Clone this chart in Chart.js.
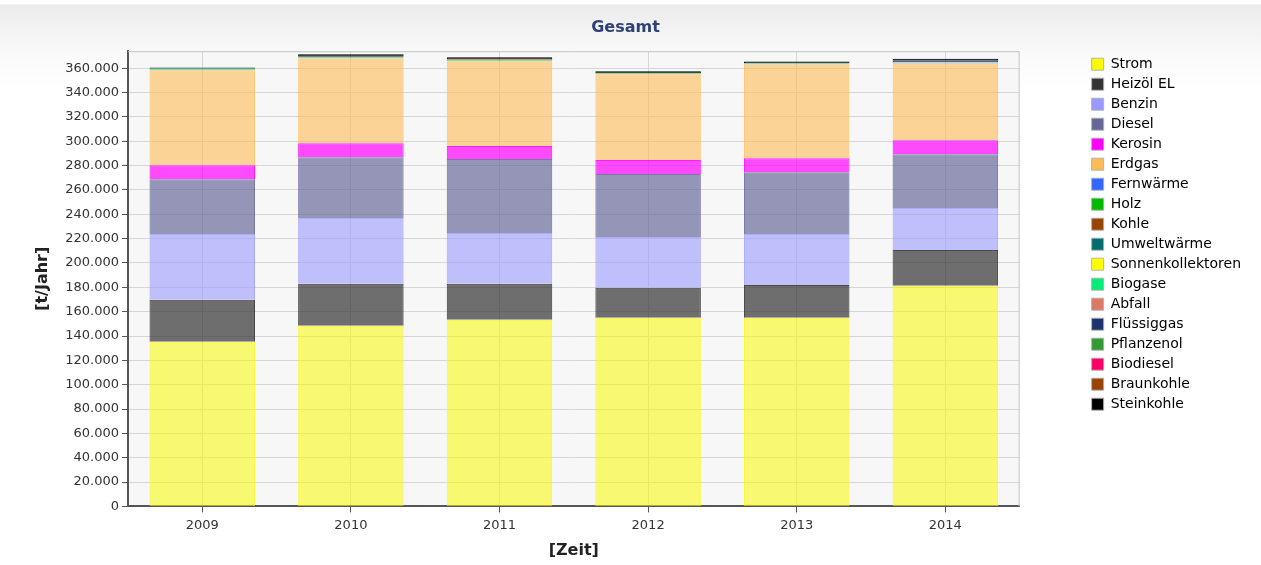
<!DOCTYPE html>
<html lang="de">
<head>
<meta charset="utf-8">
<title>Gesamt</title>
<script src="https://cdn.jsdelivr.net/npm/chart.js@4.4.1/dist/chart.umd.min.js"></script>
<style>
  html, body { margin: 0; padding: 0; background: #ffffff; }
  #wrap {
    position: absolute; left: 0; top: 0; width: 1261px; height: 565px;
    background: linear-gradient(to bottom, #ffffff 0px, #ffffff 4px, #ebebeb 5px, #f3f3f3 30px, #fbfbfb 60px, #ffffff 90px);
  }
  canvas { display: block; }
</style>
</head>
<body>
<div id="wrap"><canvas id="chart" width="1261" height="565"></canvas></div>
<script>
// Jahre (x-Achse)
const years = ['2009', '2010', '2011', '2012', '2013', '2014'];

// Emissionen je Energieträger in t/Jahr
const strom        = [135300, 148400, 153400, 155000, 155000, 181200];
const heizoel      = [34500, 34500, 29500, 24600, 27000, 29500];
const benzin       = [54000, 54000, 41800, 41800, 41800, 34400];
const diesel       = [45000, 50000, 60700, 51700, 50800, 44300];
const kerosin      = [11500, 11500, 10700, 11500, 11500, 11500];
const erdgas       = [78000, 69700, 69700, 70500, 77000, 63000];
const fernwaerme   = [0, 0, 0, 0, 0, 600];
const holz         = [800, 800, 800, 700, 700, 500];
const kohle        = [0, 0, 0, 0, 0, 0];
const umweltwaerme = [900, 600, 0, 0, 500, 0];
const sonnen       = [0, 0, 0, 0, 0, 0];
const biogase      = [0, 0, 0, 0, 0, 0];
const abfall       = [0, 0, 0, 0, 0, 0];
const fluessiggas  = [0, 0, 0, 0, 0, 1200];
const pflanzenoel  = [0, 0, 0, 0, 0, 0];
const biodiesel    = [0, 0, 0, 0, 0, 0];
const braunkohle   = [0, 0, 500, 0, 0, 0];
const steinkohle   = [700, 1900, 2000, 1800, 1200, 1600];

// y-Achse: Obergrenze und beschriftete Werte
const yMax = 374000;
const yTicks = [0, 20000, 40000, 60000, 80000, 100000, 120000, 140000, 160000,
                180000, 200000, 220000, 240000, 260000, 280000, 300000, 320000,
                340000, 360000];

// Reihen in Stapelreihenfolge (von unten nach oben): Name, Werte, Farbe, Deckkraft der Füllung
const series = [
  ['Strom', strom, [250, 250, 0], 0.54],
  ['Heizöl EL', heizoel, [51, 51, 51], 0.7],
  ['Benzin', benzin, [153, 153, 255], 0.6],
  ['Diesel', diesel, [102, 102, 153], 0.68],
  ['Kerosin', kerosin, [255, 0, 255], 0.7],
  ['Erdgas', erdgas, [255, 187, 85], 0.6],
  ['Fernwärme', fernwaerme, [51, 102, 255], 0.85],
  ['Holz', holz, [0, 187, 0], 0.6],
  ['Kohle', kohle, [153, 68, 0], 0.85],
  ['Umweltwärme', umweltwaerme, [0, 110, 110], 0.9],
  ['Sonnenkollektoren', sonnen, [255, 255, 0], 0.85],
  ['Biogase', biogase, [0, 238, 119], 0.85],
  ['Abfall', abfall, [221, 119, 102], 0.85],
  ['Flüssiggas', fluessiggas, [30, 50, 110], 0.95],
  ['Pflanzenol', pflanzenoel, [51, 153, 51], 0.85],
  ['Biodiesel', biodiesel, [255, 0, 102], 0.85],
  ['Braunkohle', braunkohle, [153, 68, 0], 0.85],
  ['Steinkohle', steinkohle, [0, 0, 0], 0.85]
];

const rgba = (c, a) => `rgba(${c[0]},${c[1]},${c[2]},${a})`;

const datasets = series.map(([label, values, col, alpha]) => ({
  label,
  data: values,
  backgroundColor: rgba(col, alpha),
  borderColor: rgba(col, Math.min(1, alpha + 0.2)),
  borderWidth: ctx => (ctx.raw ? 1 : 0),
  legendColor: rgba(col, 1),
  categoryPercentage: 1.0,
  barPercentage: 0.71
}));

const thousands = v => String(v).replace(/\B(?=(\d{3})+(?!\d))/g, '.');

// Hintergrund und Rahmen der Zeichenfläche
const plotFrame = {
  id: 'plotFrame',
  beforeDraw(chart) {
    const { ctx, chartArea: a } = chart;
    ctx.save();
    ctx.fillStyle = '#f7f7f7';
    ctx.fillRect(a.left, a.top, a.right - a.left, a.bottom - a.top);
    ctx.restore();
  },
  afterDraw(chart) {
    const { ctx, chartArea: a } = chart;
    ctx.save();
    ctx.strokeStyle = '#c4c4c4';
    ctx.lineWidth = 1;
    ctx.beginPath();
    ctx.moveTo(a.left, a.top + 0.5);
    ctx.lineTo(a.right - 0.5, a.top + 0.5);
    ctx.lineTo(a.right - 0.5, a.bottom);
    ctx.stroke();
    ctx.restore();
  }
};

const font = 'DejaVu Sans';

new Chart(document.getElementById('chart'), {
  type: 'bar',
  data: { labels: years, datasets },
  plugins: [plotFrame],
  options: {
    responsive: false,
    animation: false,
    layout: { padding: { left: 0, right: 10, top: 0, bottom: 1 } },
    plugins: {
      title: {
        display: true,
        text: 'Gesamt',
        color: '#2e4279',
        font: { family: font, size: 16, weight: 'bold' },
        padding: { top: 18, bottom: 14 }
      },
      legend: {
        position: 'right',
        align: 'start',
        fullSize: false,
        labels: {
          color: '#222',
          font: { family: font, size: 14 },
          boxWidth: 12,
          boxHeight: 12,
          padding: 6,
          generateLabels(chart) {
            return chart.data.datasets.map((ds, i) => ({
              text: ds.label,
              fillStyle: ds.legendColor,
              strokeStyle: 'rgba(175,175,175,0.9)',
              lineWidth: 1,
              hidden: false,
              datasetIndex: i
            }));
          }
        }
      },
      tooltip: { enabled: false }
    },
    scales: {
      x: {
        stacked: true,
        offset: true,
        grid: {
          offset: false,
          color: '#d6d6d6',
          tickColor: '#555',
          tickLength: 6,
          drawTicks: true
        },
        border: { color: '#555', width: 2 },
        ticks: { color: '#333', font: { family: font, size: 13 }, padding: 5 },
        title: {
          display: true,
          text: '[Zeit]',
          color: '#222',
          font: { family: font, size: 16, weight: 'bold', lineHeight: 1.0 },
          padding: { top: 5, bottom: 5 }
        }
      },
      y: {
        stacked: true,
        min: 0,
        max: yMax,
        afterBuildTicks(scale) {
          scale.ticks = yTicks.map(v => ({ value: v }));
        },
        grid: {
          color: '#d6d6d6',
          tickColor: '#555',
          tickLength: 6
        },
        border: { color: '#555', width: 2 },
        ticks: {
          color: '#333',
          font: { family: font, size: 13 },
          padding: 3,
          callback: v => thousands(v)
        },
        title: {
          display: true,
          text: '[t/Jahr]',
          color: '#222',
          font: { family: font, size: 16, weight: 'bold' },
          padding: { top: 33, bottom: 10 }
        }
      },
      // Abstand zwischen Zeichenfläche und Legende
      spacer: {
        type: 'linear',
        position: 'right',
        display: true,
        grid: { display: false },
        border: { display: false },
        ticks: { display: false },
        afterFit(scale) { scale.width = 66; }
      }
    }
  }
});
</script>
</body>
</html>
